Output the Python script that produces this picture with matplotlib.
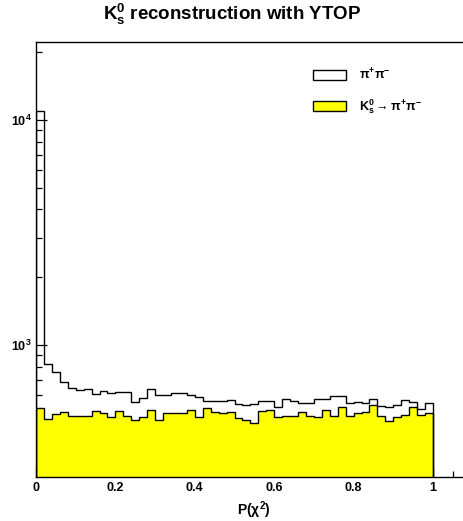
import numpy as np
import matplotlib
matplotlib.use("Agg")
import matplotlib.pyplot as plt
from matplotlib.patches import Patch
from matplotlib.ticker import MultipleLocator, LogLocator, NullFormatter

plt.rcParams['font.family'] = ['Liberation Sans', 'DejaVu Sans']
plt.rcParams['font.weight'] = 'bold'
plt.rcParams['mathtext.fontset'] = 'custom'
plt.rcParams['mathtext.rm'] = 'Liberation Sans:bold'
plt.rcParams['mathtext.it'] = 'Liberation Sans:bold'
plt.rcParams['mathtext.bf'] = 'Liberation Sans:bold'
plt.rcParams['mathtext.default'] = 'bf'

# 50 bins of P(chi2) from 0 to 1
bin_edges = np.linspace(0.0, 1.0, 51)

pipi_counts = [11000, 823, 761, 687, 646, 629, 635, 608, 626, 612,
               620, 616, 558, 583, 639, 600, 598, 610, 610, 598,
               589, 565, 561, 565, 569, 547, 543, 545, 561, 565,
               528, 573, 565, 554, 551, 577, 573, 595, 594, 551,
               558, 551, 577, 535, 532, 543, 569, 556, 519, 554]

k0s_counts = [525, 467, 496, 504, 486, 485, 486, 509, 499, 479,
              511, 482, 465, 477, 512, 464, 499, 500, 500, 514,
              480, 527, 504, 497, 502, 476, 464, 450, 509, 514,
              477, 483, 486, 502, 486, 477, 514, 483, 531, 483,
              497, 502, 540, 483, 461, 480, 489, 530, 489, 500]

title = r"K$^{0}_{s}$ reconstruction with YTOP"
xlabel = r"P($\chi^{2}$)"
legend_labels = [r"$\pi^{+}\pi^{-}$", r"K$^{0}_{s}\rightarrow\pi^{+}\pi^{-}$"]

W, H = 464, 521
fig = plt.figure(figsize=(W / 100, H / 100), dpi=100)
ax = fig.add_axes([36 / W, (H - 476.5) / H, 436 / W, (476.5 - 42.5) / H])

ax.set_yscale('log')
ax.set_xlim(0, 436 / 397)
ax.set_ylim(260.4, 22080)

ax.stairs(pipi_counts, bin_edges, baseline=1, fill=True, facecolor='white',
          edgecolor='none', zorder=1)
ax.stairs(pipi_counts, bin_edges, baseline=1, color='black', lw=1.0, zorder=3)
ax.stairs(k0s_counts, bin_edges, baseline=1, fill=True, facecolor='#ffff00',
          edgecolor='none', zorder=2)
ax.stairs(k0s_counts, bin_edges, baseline=1, color='black', lw=1.0, zorder=3)

ax.xaxis.set_major_locator(MultipleLocator(0.2))
ax.xaxis.set_minor_locator(MultipleLocator(0.05))
ax.xaxis.set_major_formatter(matplotlib.ticker.FuncFormatter(
    lambda v, p: '0' if abs(v) < 1e-9 else ('1' if abs(v - 1) < 1e-9 else f'{v:.1f}')))
ax.yaxis.set_major_locator(LogLocator(base=10, numticks=10))
ax.yaxis.set_minor_locator(LogLocator(base=10, subs=np.arange(2, 10), numticks=20))
ax.yaxis.set_minor_formatter(NullFormatter())

ax.tick_params(which='both', direction='in', top=False, right=False,
               labelsize=9, width=0.9)
ax.tick_params(axis='x', which='major', length=7, pad=4)
ax.tick_params(axis='x', which='minor', length=4)
ax.tick_params(axis='y', which='major', length=8, pad=3)
ax.tick_params(axis='y', which='minor', length=4)

for s in ax.spines.values():
    s.set_linewidth(1.0)

ax.set_xlabel(xlabel, fontsize=10, fontweight='bold', labelpad=4)
fig.text(0.5, 1 - 14.5 / H, title, ha='center', va='center',
         fontsize=13.5, fontweight='bold')

handles = [Patch(facecolor='white', edgecolor='black', lw=1.0),
           Patch(facecolor='#ffff00', edgecolor='black', lw=1.0)]
leg = ax.legend(handles, legend_labels, loc='upper left',
                bbox_to_anchor=((313 - 36) / 436, 1 - (67 - 42.5) / 434),
                frameon=False, fontsize=9, handlelength=2.6,
                handleheight=0.85, handletextpad=1.1, labelspacing=1.2,
                borderpad=0, borderaxespad=0)

fig.savefig('out.png', dpi=100)
